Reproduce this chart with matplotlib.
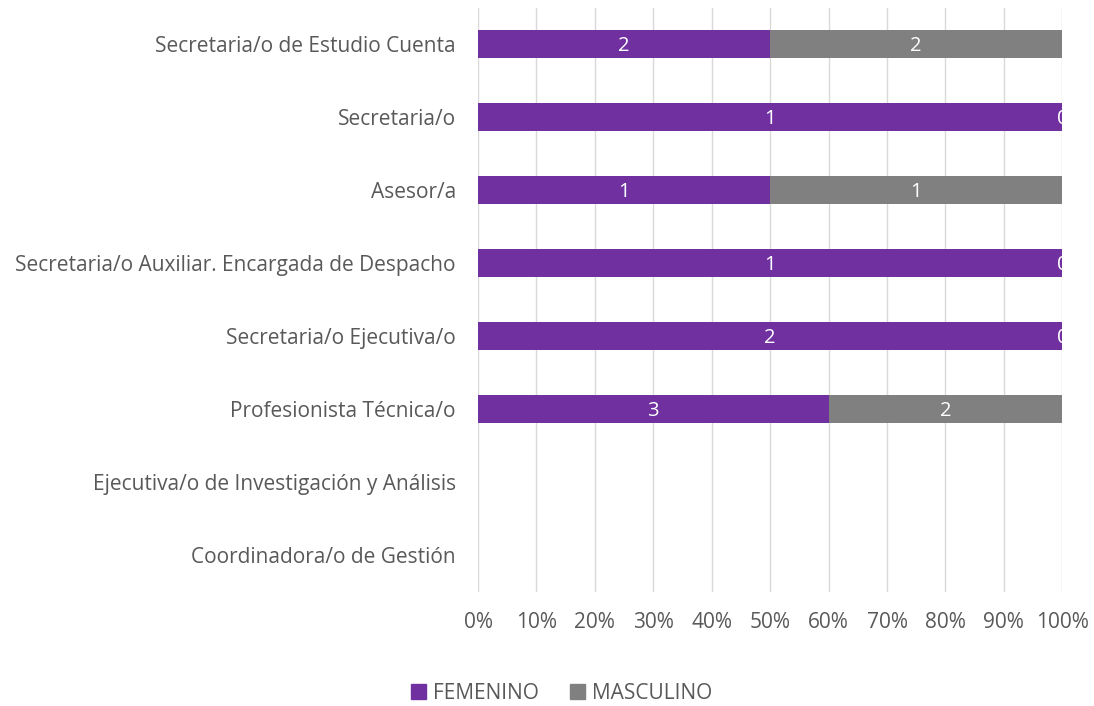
import matplotlib
matplotlib.use("Agg")
import matplotlib.pyplot as plt
import numpy as np

puestos = ["Secretaria/o de Estudio Cuenta", "Secretaria/o", "Asesor/a",
           "Secretaria/o Auxiliar. Encargada de Despacho", "Secretaria/o Ejecutiva/o",
           "Profesionista Técnica/o", "Ejecutiva/o de Investigación y Análisis",
           "Coordinadora/o de Gestión"]
femenino = [2, 1, 1, 1, 2, 3, 0, 0]
masculino = [2, 0, 1, 0, 0, 2, 0, 0]
ticks_pct = [0, 10, 20, 30, 40, 50, 60, 70, 80, 90, 100]

plt.rcParams['font.family'] = ['Open Sans', 'DejaVu Sans']
txt = '#595959'

fig = plt.figure(figsize=(10.94, 7.06), dpi=100)
ax = fig.add_axes([0.437, 0.162, 0.534, 0.827])

fem = np.array(femenino, float)
mas = np.array(masculino, float)
tot = fem + mas
safe = np.where(tot > 0, tot, 1)
pf = fem / safe
pm = mas / safe
y = np.arange(len(puestos))

ax.barh(y, pf, height=0.38, color='#7030A0', zorder=2)
ax.barh(y, pm, left=pf, height=0.38, color='#808080', zorder=2)

# etiquetas de datos
for i in range(len(puestos)):
    if tot[i] == 0:
        continue
    ax.text(pf[i] / 2, y[i] + 0.03, str(femenino[i]), color='white', fontsize=14.5,
            ha='center', va='center', zorder=3, clip_on=True)
    ax.text(pf[i] + pm[i] / 2, y[i] + 0.03, str(masculino[i]), color='white', fontsize=14.5,
            ha='center', va='center', zorder=3, clip_on=True)

ax.set_xlim(0, 1)
ax.set_ylim(len(puestos) - 0.5, -0.5)
ax.set_xticks([p / 100 for p in ticks_pct])
ax.set_xticklabels([f"{p}%" for p in ticks_pct])
ax.set_yticks(y)
ax.set_yticklabels(puestos)
ax.tick_params(axis='both', length=0, colors=txt, labelsize=15)
ax.tick_params(axis='x', pad=15)
ax.tick_params(axis='y', pad=16)
ax.grid(axis='x', color='#D9D9D9', linewidth=1, zorder=0)
ax.set_axisbelow(True)
for s in ax.spines.values():
    s.set_visible(False)

from matplotlib.patches import Patch
handles = [Patch(color='#7030A0', label='FEMENINO'), Patch(color='#808080', label='MASCULINO')]
leg = fig.legend(handles=handles, loc='center', bbox_to_anchor=(0.513, 0.018), ncol=2,
                 frameon=False, fontsize=15, handlelength=0.75, handleheight=0.75,
                 handletextpad=0.3, columnspacing=1.5)
for t in leg.get_texts():
    t.set_color(txt)

fig.savefig('out.png', dpi=100)
